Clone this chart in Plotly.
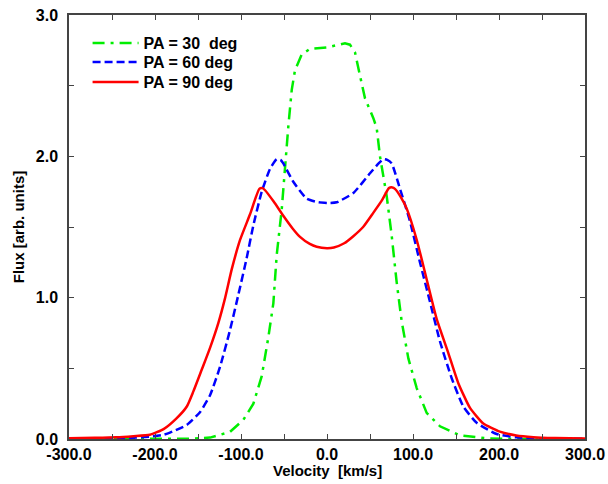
import plotly.graph_objects as go

# ---- data ----
v_pa30 = [-300, -200, -160, -136, -112.8, -97.3, -85.6, -75.9, -68.2, -62.4, -58.5, -52.7, -48, -45, -41,
          -37.2, -29.4, -19.8, -0.4, 20.9, 26.7, 32.6, 38.4, 44.2, 53.9, 57.8, 61.6, 69.4, 75.2, 81,
          86.9, 94.6, 104.3, 115.9, 131.4, 154.7, 185.7, 220, 300]
f_pa30 = [0.0, 0.0, 0.002, 0.01, 0.05, 0.135, 0.25, 0.445, 0.72, 0.96, 1.30, 1.62, 1.99, 2.21, 2.47,
          2.61, 2.72, 2.76, 2.77, 2.80, 2.79, 2.735, 2.57, 2.41, 2.27, 2.20, 2.0, 1.72, 1.44, 1.11,
          0.83, 0.57, 0.36, 0.185, 0.09, 0.025, 0.005, 0.0, 0.0]

v_pa60 = [-300, -260, -230, -206, -190, -182.6, -163, -147.7, -136, -124.4, -112.8, -103.1, -93.4, -85.7,
          -75.9, -66.3, -58.5, -54, -50.8, -39.2, -23.6, -10, 3.5, 11.3, 30.6, 50, 60, 65.5, 70, 75.2,
          84.9, 96.5, 108.1, 119.8, 131.4, 145, 158.5, 174, 197.3, 220, 250, 300]
f_pa60 = [0.002, 0.004, 0.008, 0.017, 0.03, 0.045, 0.10, 0.19, 0.31, 0.51, 0.77, 1.02, 1.28, 1.51,
          1.75, 1.91, 1.98, 1.975, 1.95, 1.82, 1.70, 1.675, 1.67, 1.675, 1.74, 1.88, 1.95, 1.98, 1.975, 1.95,
          1.77, 1.54, 1.25, 0.97, 0.69, 0.43, 0.23, 0.115, 0.035, 0.012, 0.005, 0.002]

v_pa90 = [-300, -270, -245, -225, -206, -190, -175, -163, -155.5, -145.7, -136, -126.4, -118.6, -110.8,
          -101, -89.5, -78.7, -75, -72, -62, -50.8, -40, -31.4, -20, -12, 0, 8, 20, 30.6, 42, 53.8, 64, 72, 76,
          79, 86, 92.7, 104.3, 115.9, 127.5, 141, 152.7, 166.3, 181.7, 201, 220, 240, 265, 300]
f_pa90 = [0.005, 0.008, 0.012, 0.02, 0.03, 0.07, 0.146, 0.23, 0.335, 0.49, 0.645, 0.82, 0.995, 1.20,
          1.41, 1.59, 1.77, 1.775, 1.76, 1.68, 1.58, 1.49, 1.43, 1.38, 1.36, 1.35, 1.355, 1.385, 1.435, 1.5,
          1.60, 1.69, 1.775, 1.78, 1.77, 1.71, 1.63, 1.41, 1.13, 0.85, 0.61, 0.395, 0.22, 0.11, 0.052, 0.025,
          0.013, 0.007, 0.003]

series_names = ["PA = 30&nbsp; deg", "PA = 60 deg", "PA = 90 deg"]

x_tickvals = [-300, -250, -200, -150, -100, -50, 0, 50, 100, 150, 200, 250, 300]
x_ticktext = ["-300.0", "", "-200.0", "", "-100.0", "", "0.0", "", "100.0", "", "200.0", "", "300.0"]
y_tickvals = [0, 0.5, 1, 1.5, 2, 2.5, 3]
y_ticktext = ["0.0", "", "1.0", "", "2.0", "", "3.0"]
x_title = "Velocity&nbsp; [km/s]"
y_title = "Flux [arb. units]"

FONT = "Liberation Sans, Arial, Helvetica, sans-serif"

fig = go.Figure()
fig.add_trace(go.Scatter(x=v_pa30, y=f_pa30, mode="lines", name=series_names[0], legend="legend",
                         line=dict(color="#00ee00", width=2.5, dash="12px,6px,3px,6px")))
fig.add_trace(go.Scatter(x=v_pa60, y=f_pa60, mode="lines", name=series_names[1], legend="legend2",
                         line=dict(color="#0000ff", width=2.5, dash="8px,4px", shape="spline", smoothing=0.5)))
fig.add_trace(go.Scatter(x=v_pa90, y=f_pa90, mode="lines", name=series_names[2], legend="legend3",
                         line=dict(color="#ff0000", width=2.5, shape="spline", smoothing=0.5)))

axis_common = dict(showline=True, linecolor="#444", linewidth=1.5, mirror="allticks",
                   ticks="inside", ticklen=5, tickcolor="#444", tickwidth=1,
                   showgrid=False, zeroline=False, automargin=False,
                   tickfont=dict(family=FONT, size=16, color="black", weight="bold"))

legend_common = dict(x=0.036, xanchor="left", yanchor="middle", bgcolor="rgba(0,0,0,0)",
                     font=dict(family=FONT, size=16, color="black", weight="bold"),
                     itemwidth=46)

fig.update_layout(
    width=608, height=484,
    margin=dict(l=69, r=23, t=15, b=45),
    paper_bgcolor="white", plot_bgcolor="white",
    xaxis=dict(range=[-300, 300], tickmode="array", tickvals=x_tickvals, ticktext=x_ticktext,
               ticklabelstandoff=0, **axis_common),
    yaxis=dict(range=[0, 3], tickmode="array", tickvals=y_tickvals, ticktext=y_ticktext,
               ticklabelstandoff=6,
               title=dict(text=y_title, standoff=8,
                          font=dict(family=FONT, size=15, color="black", weight="bold")),
               **axis_common),
    legend=dict(y=0.934, **legend_common),
    legend2=dict(y=0.889, **legend_common),
    legend3=dict(y=0.842, **legend_common),
    showlegend=True,
    annotations=[dict(text=x_title, xref="paper", yref="paper", x=0.5, y=-0.075,
                      xanchor="center", yanchor="middle", showarrow=False,
                      font=dict(family=FONT, size=15, color="black", weight="bold"))],
)

fig.write_html("out.html", config={"displayModeBar": False},
               post_script="document.body.style.margin='0px';document.body.style.overflow='hidden';")
